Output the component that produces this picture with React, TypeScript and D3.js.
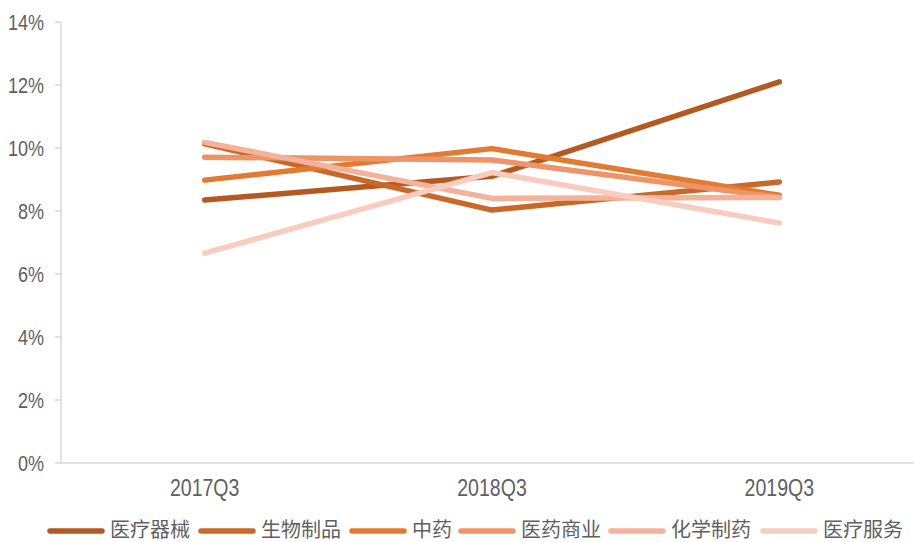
import React from "react";
import * as d3 from "d3";

const categories = ["2017Q3", "2018Q3", "2019Q3"];
const seriesNames = ["医疗器械", "生物制品", "中药", "医药商业", "化学制药", "医疗服务"];
const seriesColors = ["#B35A22", "#C8692A", "#E07B31", "#EE9468", "#F4B29A", "#F8CDBF"];
const s医疗器械 = [8.35, 9.1, 12.1];
const s生物制品 = [10.13, 8.03, 8.92];
const s中药 = [8.98, 9.98, 8.5];
const s医药商业 = [9.71, 9.62, 8.43];
const s化学制药 = [10.18, 8.4, 8.43];
const s医疗服务 = [6.66, 9.22, 7.62];
const seriesValues = [s医疗器械, s生物制品, s中药, s医药商业, s化学制药, s医疗服务];
const yTicks = [0, 2, 4, 6, 8, 10, 12, 14];

const W = 914;
const H = 542;
const left = 61;
const right = 923;
const top = 22;
const bottom = 463;

export default function App() {
  const x = d3.scaleBand<string>().domain(categories).range([left, right]);
  const y = d3.scaleLinear().domain([0, 14]).range([bottom, top]);
  const line = d3
    .line<number>()
    .x((_, i) => (x(categories[i]) as number) + x.bandwidth() / 2)
    .y((d) => y(d));
  const numFont = "'Liberation Sans', Arial, sans-serif";
  const cjkFont = "'Noto Sans CJK SC', sans-serif";
  const legendX = [48, 199, 350, 459, 609, 761];
  return (
    <svg width={W} height={H} style={{ position: "absolute", left: 0, top: 0 }}>
      <rect width={W} height={H} fill="#fff" />
      <line x1={left} x2={left} y1={top} y2={bottom} stroke="#D9D9D9" strokeWidth={1.5} />
      <line x1={left} x2={W} y1={bottom} y2={bottom} stroke="#D9D9D9" strokeWidth={1.5} />
      {yTicks.map((t) => (
        <g key={t}>
          <line x1={left - 6} x2={left} y1={y(t)} y2={y(t)} stroke="#D9D9D9" strokeWidth={1.5} />
          <text
            transform={`translate(44,${y(t)}) scale(0.82,1)`}
            dy="0.36em"
            textAnchor="end"
            fontFamily={numFont}
            fontSize={22}
            fill="#5f5f5f"
          >
            {t + "%"}
          </text>
        </g>
      ))}
      {categories.map((c) => (
        <text
          key={c}
          transform={`translate(${(x(c) as number) + x.bandwidth() / 2},488) scale(0.85,1)`}
          dy="0.36em"
          textAnchor="middle"
          fontFamily={numFont}
          fontSize={23}
          fill="#5f5f5f"
        >
          {c}
        </text>
      ))}
      {seriesValues.map((vals, i) => (
        <path
          key={seriesNames[i]}
          d={line(vals) as string}
          fill="none"
          stroke={seriesColors[i]}
          strokeWidth={5.5}
          strokeLinecap="round"
          strokeLinejoin="round"
        />
      ))}
      {seriesNames.map((n, i) => (
        <g key={n}>
          <line
            x1={legendX[i] + 2}
            x2={legendX[i] + 54}
            y1={531}
            y2={531}
            stroke={seriesColors[i]}
            strokeWidth={5.5}
            strokeLinecap="round"
          />
          <text
            transform={`translate(${legendX[i] + 62},530) scale(1.0,1)`}
            dy="0.35em"
            fontFamily={cjkFont}
            fontSize={20}
            fill="#5f5f5f"
          >
            {n}
          </text>
        </g>
      ))}
    </svg>
  );
}
